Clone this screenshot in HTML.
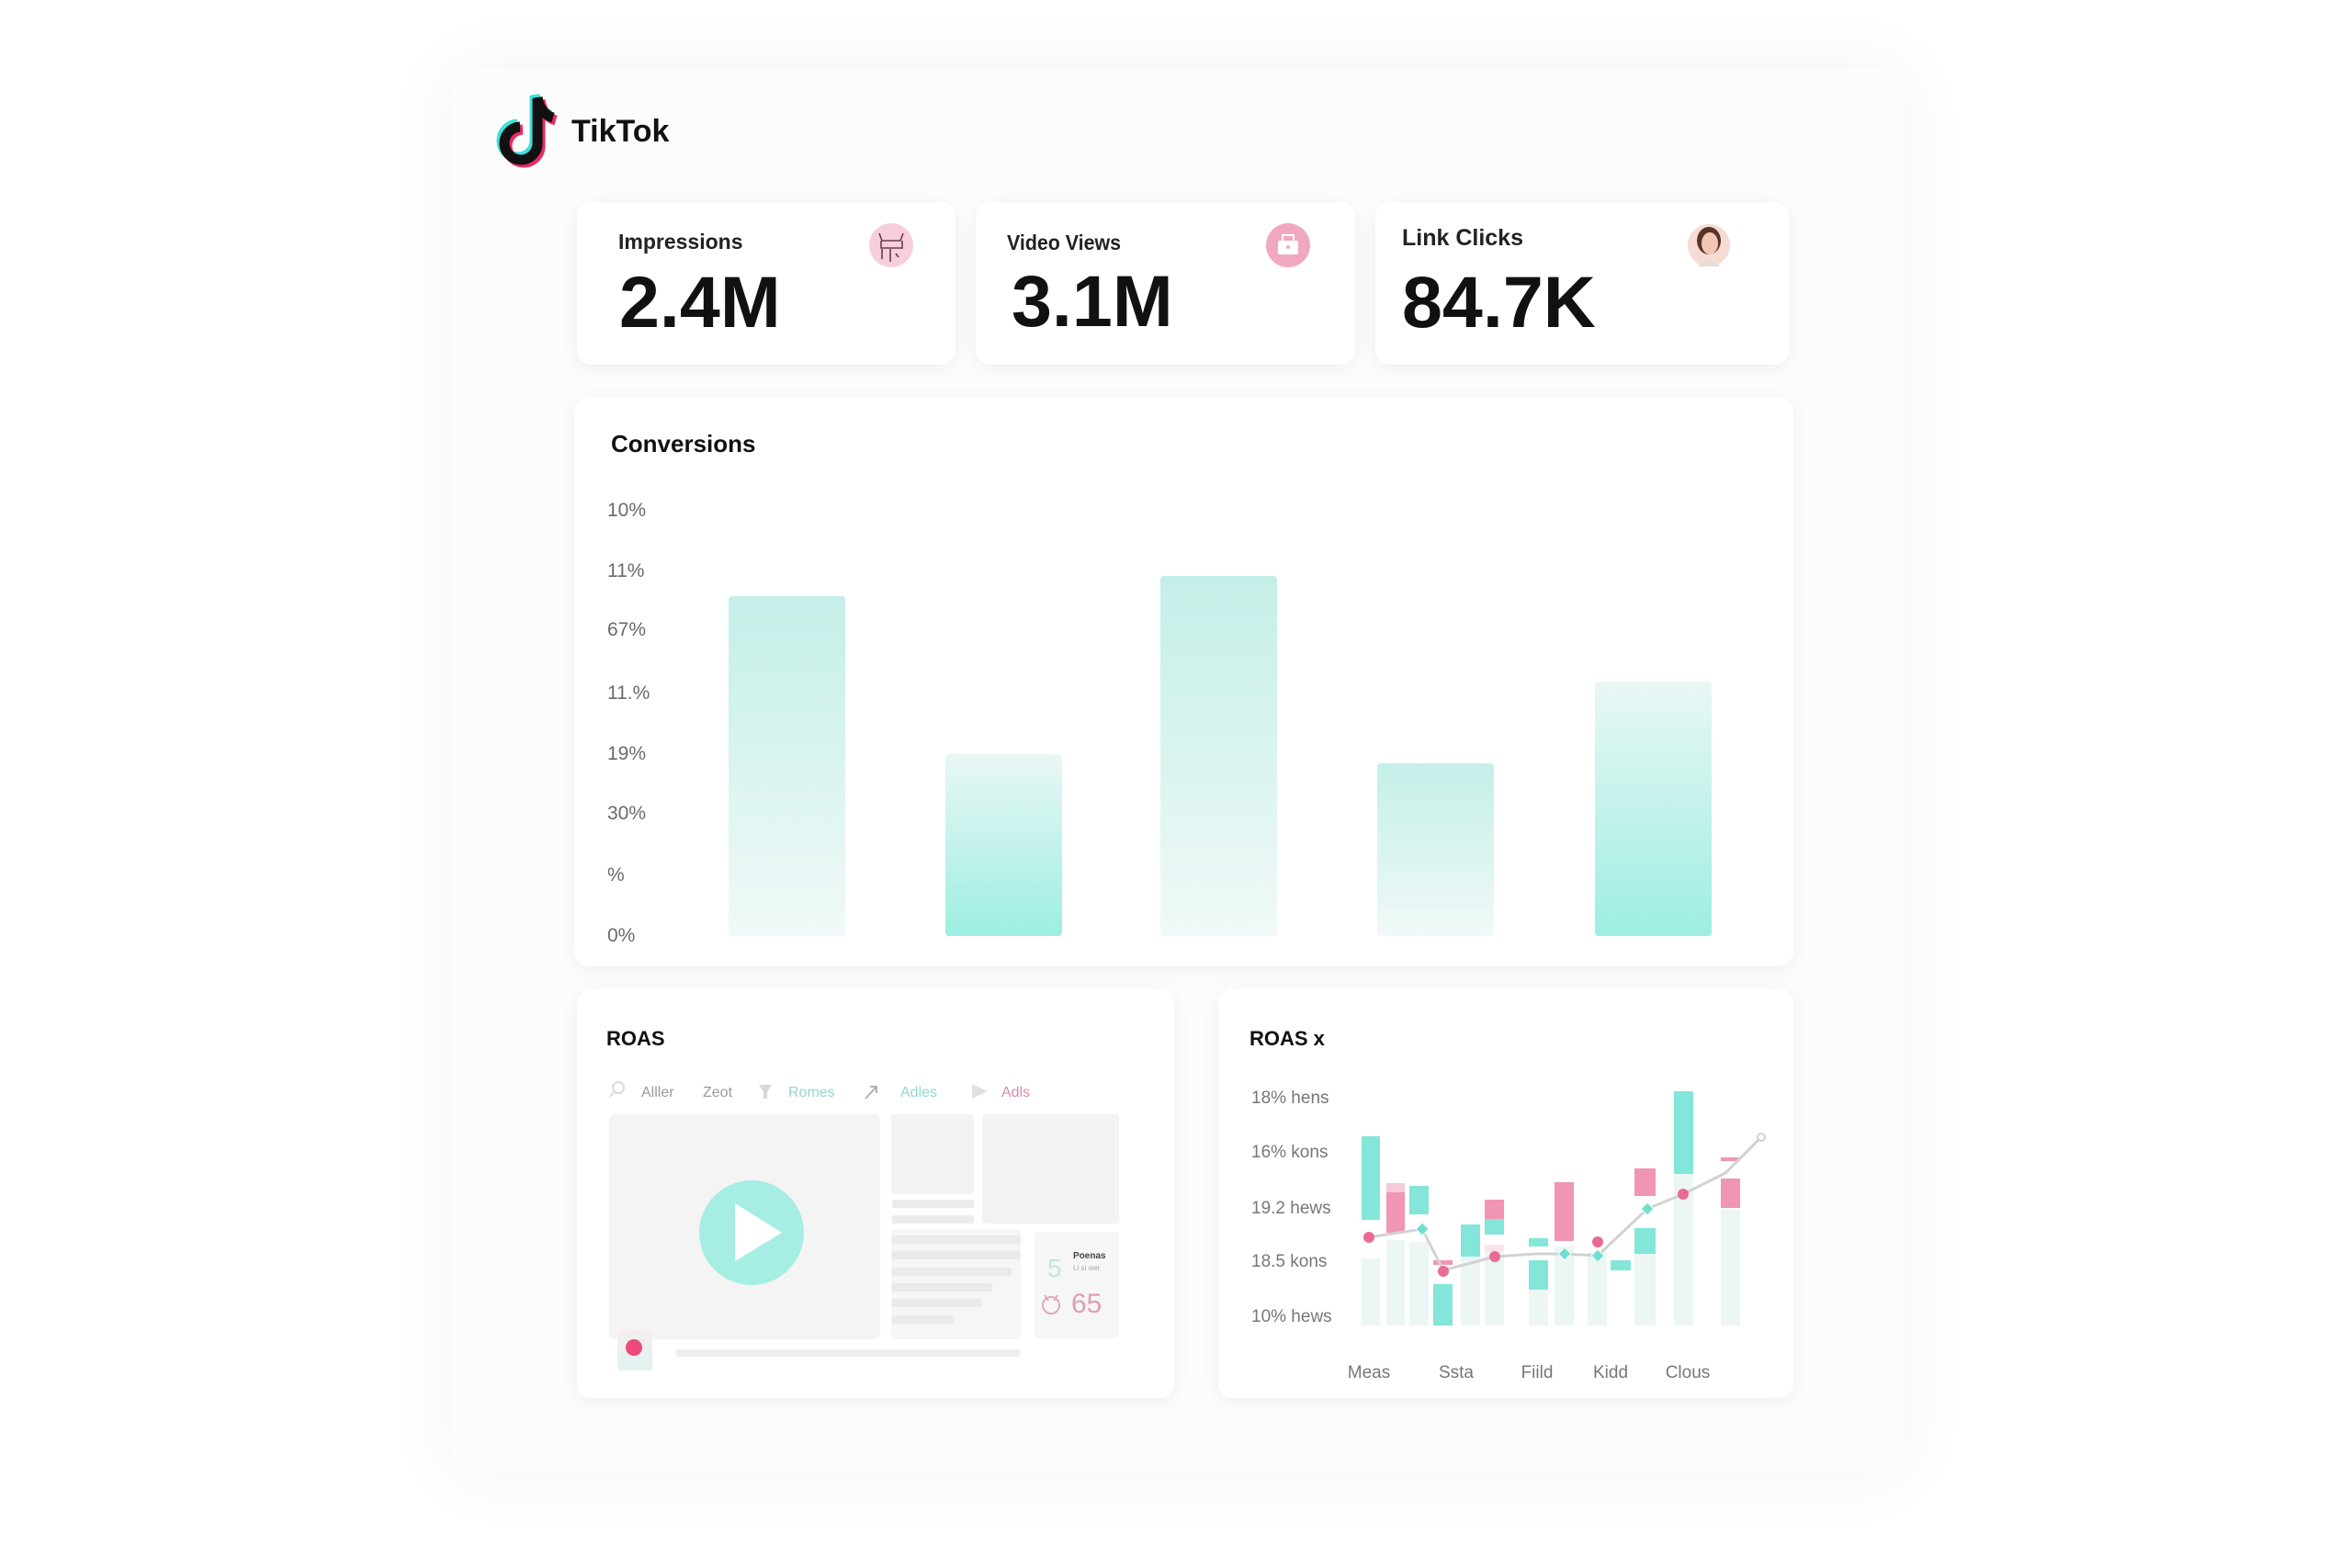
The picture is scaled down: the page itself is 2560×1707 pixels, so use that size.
<!DOCTYPE html>
<html>
<head>
<meta charset="utf-8">
<style>
  html,body{margin:0;padding:0;background:#ffffff;}
  body{width:2560px;height:1707px;position:relative;overflow:hidden;font-family:"Liberation Sans",Arial,sans-serif;}
  .outer{position:absolute;left:492px;top:75px;width:1580px;height:1529px;background:#fcfcfc;border-radius:30px;box-shadow:0 0 70px 10px rgba(0,0,0,0.045);}
  .card{position:absolute;background:#ffffff;border-radius:16px;box-shadow:0 4px 22px rgba(0,0,0,0.055);}
  svg.layer{position:absolute;left:0;top:0;}
</style>
</head>
<body>
<div class="outer"></div>
<div class="card" style="left:628px;top:220px;width:412px;height:177px;"></div>
<div class="card" style="left:1062px;top:220px;width:413px;height:177px;"></div>
<div class="card" style="left:1497px;top:220px;width:450px;height:177px;"></div>
<div class="card" style="left:625px;top:432px;width:1327px;height:620px;"></div>
<div class="card" style="left:628px;top:1076px;width:650px;height:446px;"></div>
<div class="card" style="left:1326px;top:1076px;width:626px;height:446px;"></div>

<svg class="layer" width="2560" height="1707" viewBox="0 0 2560 1707" xmlns="http://www.w3.org/2000/svg" font-family="Liberation Sans, Arial, sans-serif">
  <defs>
    <linearGradient id="gDown" x1="0" y1="0" x2="0" y2="1">
      <stop offset="0" stop-color="#c4efe8"/>
      <stop offset="1" stop-color="#f0f9f8"/>
    </linearGradient>
    <linearGradient id="gUp" x1="0" y1="0" x2="0" y2="1">
      <stop offset="0" stop-color="#e9f7f5"/>
      <stop offset="1" stop-color="#9deee1"/>
    </linearGradient>
    <linearGradient id="thumb" x1="0" y1="0" x2="0" y2="1">
      <stop offset="0" stop-color="#f6eef1"/>
      <stop offset="1" stop-color="#dff3ef"/>
    </linearGradient>
  </defs>

  <!-- TikTok logo -->
  <g fill="none" stroke-linecap="butt" stroke-linejoin="round">
    <g transform="translate(-3,-3)" stroke="#3fe0dc" stroke-width="11">
      <path d="M585,108 L585,156 A18,18 0 1 1 566,138"/>
      <path d="M585,106 Q588,124 602,128"/>
    </g>
    <g transform="translate(3,3)" stroke="#ec2a63" stroke-width="11">
      <path d="M585,108 L585,156 A18,18 0 1 1 566,138"/>
      <path d="M585,106 Q588,124 602,128"/>
    </g>
    <g stroke="#111111" stroke-width="11">
      <path d="M585,108 L585,156 A18,18 0 1 1 566,138"/>
      <path d="M585,106 Q588,124 602,128"/>
    </g>
  </g>
  <text x="622" y="154" font-size="34" font-weight="bold" fill="#111">TikTok</text>

  <!-- KPI card 1 -->
  <text x="673" y="271" font-size="23" font-weight="bold" fill="#222">Impressions</text>
  <text x="674" y="356" font-size="79" font-weight="bold" fill="#111">2.4M</text>
  <circle cx="970" cy="267" r="24" fill="#f7cfdb"/>
  <path d="M957,254 L960,262 L980,262 L983,254 M959,262 L959,270 L982,270 L982,262 M960,271 L960,282 M969,271 L969,285 M975,276 L978,280" stroke="#6b3a4d" stroke-width="1.6" fill="none"/>

  <!-- KPI card 2 -->
  <text x="1096" y="272" font-size="23" font-weight="bold" fill="#222" textLength="124" lengthAdjust="spacingAndGlyphs">Video Views</text>
  <text x="1101" y="355" font-size="79" font-weight="bold" fill="#111">3.1M</text>
  <circle cx="1402" cy="267" r="24" fill="#f0a8c0"/>
  <rect x="1391" y="262" width="22" height="15" rx="2" fill="#ffffff"/>
  <path d="M1396,262 L1396,256 L1408,256 L1408,262" stroke="#ffffff" stroke-width="2" fill="none"/>
  <circle cx="1402" cy="269" r="2" fill="#f0a8c0"/>

  <!-- KPI card 3 -->
  <text x="1526" y="267" font-size="25" font-weight="bold" fill="#222">Link Clicks</text>
  <text x="1526" y="356" font-size="79" font-weight="bold" fill="#111">84.7K</text>
  <circle cx="1860" cy="267" r="23" fill="#f6dcd4"/>
  <ellipse cx="1860" cy="262" rx="13" ry="15" fill="#5a3328"/>
  <ellipse cx="1861" cy="265" rx="9" ry="12" fill="#f1c7b4"/>
  <path d="M1848,290 Q1860,278 1872,290 Z" fill="#eadbd5"/>

  <!-- Conversions -->
  <text x="665" y="492" font-size="26" font-weight="bold" fill="#111">Conversions</text>
  <g font-size="21" fill="#6a6a6a">
    <text x="661" y="562">10%</text>
    <text x="661" y="628">11%</text>
    <text x="661" y="692">67%</text>
    <text x="661" y="761">11.%</text>
    <text x="661" y="827">19%</text>
    <text x="661" y="892">30%</text>
    <text x="661" y="959">%</text>
    <text x="661" y="1025">0%</text>
  </g>
  <rect x="793" y="649" width="127" height="370" rx="4" fill="url(#gDown)"/>
  <rect x="1029" y="821" width="127" height="198" rx="4" fill="url(#gUp)"/>
  <rect x="1263" y="627" width="127" height="392" rx="4" fill="url(#gDown)"/>
  <rect x="1499" y="831" width="127" height="188" rx="4" fill="url(#gDown)"/>
  <rect x="1736" y="742" width="127" height="277" rx="4" fill="url(#gUp)"/>

  <!-- ROAS card -->
  <text x="660" y="1138" font-size="22" font-weight="bold" fill="#111">ROAS</text>
  <g font-size="16">
    <circle cx="673" cy="1184" r="6" fill="none" stroke="#dcdcdc" stroke-width="2"/>
    <line x1="668" y1="1189" x2="664" y2="1194" stroke="#dcdcdc" stroke-width="2"/>
    <text x="698" y="1194" fill="#9a9a9a">Alller</text>
    <text x="765" y="1194" fill="#9a9a9a">Zeot</text>
    <path d="M826,1181 L840,1181 L835,1189 L835,1196 L831,1196 L831,1189 Z" fill="#d8d8d8"/>
    <text x="858" y="1194" fill="#8fd9cf">Romes</text>
    <path d="M942,1196 L954,1183 M947,1183 L954,1183 L954,1190" stroke="#b0b0b0" stroke-width="2" fill="none"/>
    <text x="980" y="1194" fill="#8fd9cf">Adles</text>
    <path d="M1058,1180 L1075,1188 L1058,1196 Z" fill="#e0e0e0"/>
    <text x="1090" y="1194" fill="#d98aa8">Adls</text>
  </g>
  <rect x="663" y="1213" width="295" height="245" rx="6" fill="#f4f4f4"/>
  <circle cx="818" cy="1342" r="57" fill="#a6eee3"/>
  <path d="M800,1310 L851,1342 L800,1373 Z" fill="#ffffff"/>
  <rect x="970" y="1213" width="90" height="87" rx="3" fill="#f3f3f3"/>
  <rect x="1069" y="1213" width="149" height="119" rx="3" fill="#f3f3f3"/>
  <rect x="971" y="1306" width="89" height="9" rx="2" fill="#ececec"/>
  <rect x="971" y="1323" width="89" height="9" rx="2" fill="#ececec"/>
  <rect x="970" y="1339" width="141" height="119" rx="3" fill="#f6f6f6"/>
  <rect x="971" y="1345" width="140" height="9" rx="2" fill="#eaeaea"/>
  <rect x="971" y="1362" width="140" height="9" rx="2" fill="#eaeaea"/>
  <rect x="971" y="1380" width="130" height="9" rx="2" fill="#eaeaea"/>
  <rect x="971" y="1397" width="109" height="9" rx="2" fill="#eaeaea"/>
  <rect x="971" y="1414" width="97" height="9" rx="2" fill="#eaeaea"/>
  <rect x="971" y="1432" width="67" height="9" rx="2" fill="#eaeaea"/>
  <rect x="1126" y="1341" width="92" height="116" rx="4" fill="#f6f6f6"/>
  <text x="1140" y="1390" font-size="28" fill="#bfe7e1">5</text>
  <text x="1168" y="1370" font-size="10" font-weight="bold" fill="#444">Poenas</text>
  <text x="1168" y="1383" font-size="8" fill="#aaa">Li si wer</text>
  <circle cx="1144" cy="1421" r="9" fill="none" stroke="#e2a9b9" stroke-width="2"/>
  <path d="M1137,1410 L1141,1416 M1151,1410 L1147,1416" stroke="#e2a9b9" stroke-width="2"/>
  <text x="1166" y="1429" font-size="30" fill="#dba0b2">65</text>
  <rect x="672" y="1448" width="38" height="44" rx="4" fill="url(#thumb)"/>
  <circle cx="690" cy="1467" r="9" fill="#ee4a7c"/>
  <rect x="735" y="1469" width="376" height="8" rx="4" fill="#eeeeee"/>

  <!-- ROAS x card -->
  <text x="1360" y="1138" font-size="22" font-weight="bold" fill="#111">ROAS x</text>
  <g font-size="19" fill="#777">
    <text x="1362" y="1201">18% hens</text>
    <text x="1362" y="1260">16% kons</text>
    <text x="1362" y="1321">19.2  hews</text>
    <text x="1362" y="1379">18.5  kons</text>
    <text x="1362" y="1439">10% hews</text>
  </g>
  <g font-size="19" fill="#777" text-anchor="middle">
    <text x="1490" y="1500">Meas</text>
    <text x="1585" y="1500">Ssta</text>
    <text x="1673" y="1500">Fiild</text>
    <text x="1753" y="1500">Kidd</text>
    <text x="1837" y="1500">Clous</text>
  </g>
  <!-- pale background bars -->
  <g fill="#ecf6f4">
    <rect x="1482" y="1370" width="20" height="73"/>
    <rect x="1509" y="1350" width="20" height="93"/>
    <rect x="1534" y="1352" width="21" height="91"/>
    <rect x="1590" y="1368" width="21" height="75"/>
    <rect x="1616" y="1355" width="21" height="88"/>
    <rect x="1664" y="1404" width="21" height="39"/>
    <rect x="1692" y="1357" width="21" height="86"/>
    <rect x="1728" y="1363" width="21" height="80"/>
    <rect x="1779" y="1365" width="23" height="78"/>
    <rect x="1822" y="1278" width="21" height="165"/>
    <rect x="1873" y="1317" width="21" height="126"/>
  </g>
  <g fill="#84e6d8">
    <rect x="1482" y="1237" width="20" height="91"/>
    <rect x="1534" y="1291" width="21" height="31"/>
    <rect x="1560" y="1398" width="21" height="45"/>
    <rect x="1590" y="1333" width="21" height="35"/>
    <rect x="1616" y="1327" width="21" height="17"/>
    <rect x="1664" y="1348" width="21" height="9"/>
    <rect x="1664" y="1372" width="21" height="32"/>
    <rect x="1753" y="1372" width="22" height="11"/>
    <rect x="1779" y="1337" width="23" height="28"/>
    <rect x="1822" y="1188" width="21" height="90"/>
  </g>
  <g fill="#f095b4">
    <rect x="1509" y="1298" width="20" height="44"/>
    <rect x="1560" y="1372" width="21" height="5"/>
    <rect x="1616" y="1306" width="21" height="21"/>
    <rect x="1692" y="1287" width="21" height="64"/>
    <rect x="1779" y="1272" width="23" height="30"/>
    <rect x="1873" y="1260" width="21" height="4"/>
    <rect x="1873" y="1283" width="21" height="32"/>
  </g>
  <rect x="1509" y="1288" width="20" height="10" fill="#f7cad8"/>
  <rect x="1616" y="1355" width="21" height="7" fill="#fbe3ea"/>
  <polyline points="1490,1347 1548,1338 1571,1383 1627,1368 1672,1365 1703,1365 1739,1367 1793,1316 1832,1300 1878,1277 1917,1238" fill="none" stroke="#d2d2d2" stroke-width="3"/>
  <g fill="#e96b93">
    <circle cx="1490" cy="1347" r="6"/>
    <circle cx="1571" cy="1384" r="6"/>
    <circle cx="1627" cy="1368" r="6"/>
    <circle cx="1739" cy="1352" r="6"/>
    <circle cx="1832" cy="1300" r="6"/>
  </g>
  <g fill="#6fe0d0" stroke="#ffffff" stroke-width="1">
    <path d="M1548,1331 L1555,1338 L1548,1345 L1541,1338 Z"/>
    <path d="M1703,1358 L1710,1365 L1703,1372 L1696,1365 Z"/>
    <path d="M1739,1360 L1746,1367 L1739,1374 L1732,1367 Z"/>
    <path d="M1793,1309 L1800,1316 L1793,1323 L1786,1316 Z"/>
  </g>
  <circle cx="1917" cy="1238" r="4" fill="#ffffff" stroke="#d2d2d2" stroke-width="2"/>
</svg>
</body>
</html>
